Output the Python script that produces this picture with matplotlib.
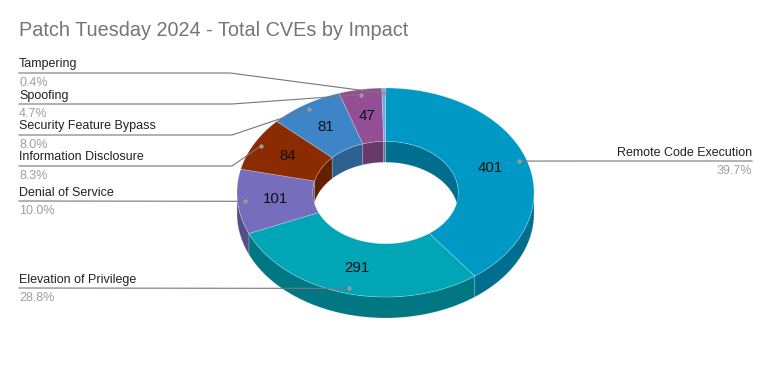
import numpy as np
import matplotlib
matplotlib.use("Agg")
import matplotlib.pyplot as plt
from matplotlib.colors import to_rgb

plt.rcParams['font.family'] = ['Liberation Sans', 'DejaVu Sans']

# ---- data ----
categories = ["Remote Code Execution", "Elevation of Privilege", "Denial of Service",
              "Information Disclosure", "Security Feature Bypass", "Spoofing", "Tampering"]
values = [401, 291, 101, 84, 81, 47, 4]
colors = ["#0099C6", "#00A5B6", "#766EBC", "#8B2B02", "#3D85C6", "#934F96", "#6FA8DC"]
title = "Patch Tuesday 2024 - Total CVEs by Impact"

# ---- layout (pixel space) ----
W, H = 771, 371
cx, cy = 385.5, 192.5
rx, ry = 148.5, 104.5
hole = 0.49
depth = 21

fig = plt.figure(figsize=(W / 100, H / 100), dpi=100)
ax = fig.add_axes([0, 0, 1, 1])
ax.set_xlim(0, W)
ax.set_ylim(H, 0)
ax.axis("off")

vals = np.array(values, dtype=float)
total = vals.sum()
bounds = np.concatenate([[0], np.cumsum(vals)]) / total * 2 * np.pi


def pt(theta, r, dy=0.0):
    return cx + r * rx * np.sin(theta), cy - r * ry * np.cos(theta) + dy


def darker(c, f=0.72):
    r, g, b = to_rgb(c)
    return (r * f, g * f, b * f)


def clip_range(a, b, lo, hi):
    s, e = max(a, lo), min(b, hi)
    return (s, e) if e > s else None

# outer walls (front half)
for i in range(len(vals)):
    a, b = bounds[i], bounds[i + 1]
    rng = clip_range(a, b, np.pi / 2, 3 * np.pi / 2)
    if rng is None:
        continue
    t = np.linspace(rng[0], rng[1], 80)
    x1, y1 = pt(t, 1.0)
    x2, y2 = pt(t[::-1], 1.0, depth)
    ax.fill(np.concatenate([x1, x2]), np.concatenate([y1, y2]),
            color=darker(colors[i]), ec=(1, 1, 1, 0.25), lw=0.5, zorder=1)

# inner walls (back half)
for i in range(len(vals)):
    a, b = bounds[i], bounds[i + 1]
    for lo, hi in [(0, np.pi / 2), (3 * np.pi / 2, 2 * np.pi)]:
        rng = clip_range(a, b, lo, hi)
        if rng is None:
            continue
        t = np.linspace(rng[0], rng[1], 80)
        x1, y1 = pt(t, hole)
        x2, y2 = pt(t[::-1], hole, depth)
        ax.fill(np.concatenate([x1, x2]), np.concatenate([y1, y2]),
                color=darker(colors[i]), ec=(1, 1, 1, 0.25), lw=0.5, zorder=2)

# top surfaces
for i in range(len(vals)):
    a, b = bounds[i], bounds[i + 1]
    t = np.linspace(a, b, 200)
    x1, y1 = pt(t, 1.0)
    x2, y2 = pt(t[::-1], hole)
    ax.fill(np.concatenate([x1, x2]), np.concatenate([y1, y2]),
            color=colors[i], ec=(1, 1, 1, 0.3), lw=0.5, zorder=3)

# value labels
mids = (bounds[:-1] + bounds[1:]) / 2
for i, v in enumerate(values):
    if v / total < 0.02:
        continue
    x, y = pt(mids[i], (1 + hole) / 2)
    ax.text(x, y, str(v), ha="center", va="center", fontsize=10.8,
            color="#111111", zorder=5)

# leader lines & side labels
label_y = [161, 288, 201, 166, 135, 104, 73]
knee_x = [None, None, None, 232, 232, 232, 230]
lc = "#777777"
for i, cat in enumerate(categories):
    dx, dy = pt(mids[i], 0.95)
    pct = f"{values[i] / total * 100:.1f}%"
    ly = label_y[i]
    if dx > cx:
        ax.plot([dx, 752], [dy, ly], color=lc, lw=0.8, zorder=4)
        ax.text(752, ly - 2.5, cat, ha="right", va="bottom", fontsize=9, color="#222222")
        ax.text(752, ly + 4, pct, ha="right", va="top", fontsize=9, color="#9e9e9e")
    else:
        if knee_x[i] is None:
            xs, ys = [19, dx], [ly, dy]
        else:
            xs, ys = [19, knee_x[i], dx], [ly, ly, dy]
        ax.plot(xs, ys, color=lc, lw=0.8, zorder=4)
        ax.text(19, ly - 2.5, cat, ha="left", va="bottom", fontsize=9, color="#222222")
        ax.text(19, ly + 4, pct, ha="left", va="top", fontsize=9, color="#9e9e9e")
    ax.plot([dx], [dy], "o", ms=3.2, color="#9a9a9a", mec="none", zorder=6)

ax.text(19, 31, title, ha="left", va="center", fontsize=14.3, color="#757575")

fig.savefig("out.png", dpi=100)
